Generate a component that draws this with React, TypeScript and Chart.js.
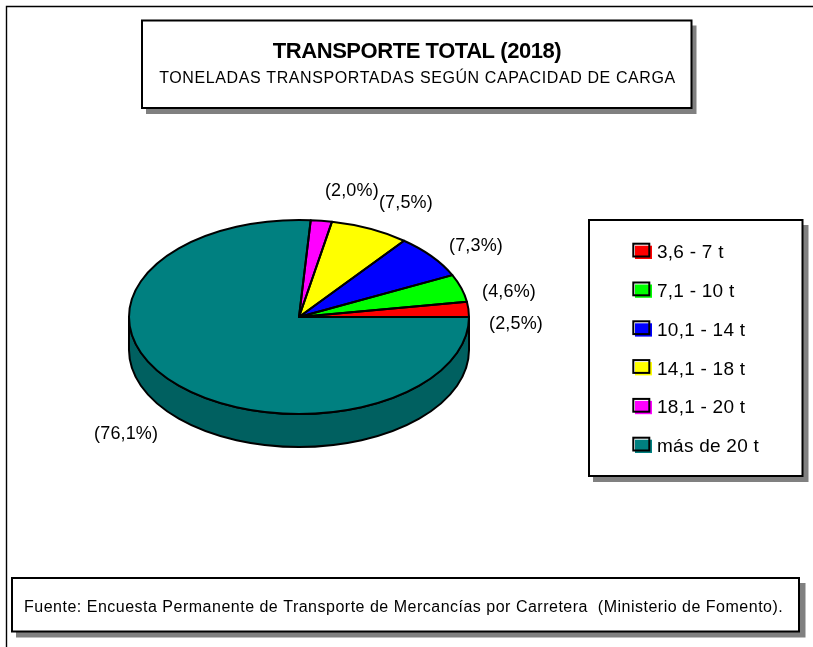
import React, { useEffect, useRef } from "react";
import { Chart, registerables } from "chart.js";

Chart.register(...registerables);

const categories = ["3,6 - 7 t", "7,1 - 10 t", "10,1 - 14 t", "14,1 - 18 t", "18,1 - 20 t", "más de 20 t"];
const shares = [2.5, 4.6, 7.3, 7.5, 2.0, 76.1];
const shareLabels = ["(2,5%)", "(4,6%)", "(7,3%)", "(7,5%)", "(2,0%)", "(76,1%)"];
const colours = ["#ff0000", "#00ff00", "#0000ff", "#ffff00", "#ff00ff", "#008080"];

const TITLE = "TRANSPORTE TOTAL (2018)";
const SUBTITLE = "TONELADAS TRANSPORTADAS SEGÚN CAPACIDAD DE CARGA";
const SOURCE = "Fuente: Encuesta Permanente de Transporte de Mercancías por Carretera  (Ministerio de Fomento).";

const FONT = '"Liberation Sans", Arial, sans-serif';
const SQUASH = 97 / 170;
const DEPTH = 33;
// Offset of each slice label from its rim midpoint (same order as categories)
const labelNudges = [
  [47.5, 13.6],
  [47.7, 2.9],
  [44.3, -11.3],
  [36, -26.9],
  [30.5, -30.9],
  [-48.6, 49.4],
];

function box(ctx: CanvasRenderingContext2D, x0: number, y0: number, x1: number, y1: number, sx: number, sy: number) {
  ctx.fillStyle = "#808080";
  ctx.fillRect(x0 + 4, y0 + 5, x1 - x0 + sx - 4, y1 - y0 + sy - 5);
  ctx.fillStyle = "#ffffff";
  ctx.fillRect(x0, y0, x1 - x0, y1 - y0);
  ctx.strokeStyle = "#000000";
  ctx.lineWidth = 2;
  ctx.strokeRect(x0, y0, x1 - x0, y1 - y0);
}

function text(ctx: CanvasRenderingContext2D, s: string, x: number, y: number, font: string, spacing: number, align: CanvasTextAlign = "left") {
  ctx.font = font;
  (ctx as any).letterSpacing = spacing + "px";
  ctx.textAlign = align;
  ctx.textBaseline = "alphabetic";
  ctx.fillStyle = "#000000";
  ctx.fillText(s, x, y);
  (ctx as any).letterSpacing = "0px";
}

const piePlugin = {
  id: "pie3d",
  beforeDraw(chart: any) {
    const ctx: CanvasRenderingContext2D = chart.ctx;
    ctx.save();
    ctx.fillStyle = "#ffffff";
    ctx.fillRect(0, 0, chart.width, chart.height);
    // outer frame
    ctx.strokeStyle = "#000000";
    ctx.lineWidth = 1.4;
    ctx.beginPath();
    ctx.moveTo(813, 6.5);
    ctx.lineTo(6.5, 6.5);
    ctx.lineTo(6.5, 647);
    ctx.stroke();
    // title box
    box(ctx, 142, 20.5, 691.5, 108, 5, 6);
    text(ctx, TITLE, 417, 57.5, `bold 22px ${FONT}`, -0.45, "center");
    text(ctx, SUBTITLE, 417.5, 83, `16px ${FONT}`, 0.6, "center");
    // legend box
    box(ctx, 589, 220, 802.5, 476, 6, 6);
    categories.forEach((c, i) => {
      const top = 243.7 + i * 38.8;
      ctx.fillStyle = colours[i];
      ctx.fillRect(635, top + 2, 17, 13.3);
      ctx.strokeStyle = "#000000";
      ctx.lineWidth = 2;
      ctx.strokeRect(633.3, top, 16, 12.8);
      text(ctx, c, 657, top + 14.5, `19px ${FONT}`, 0.25);
    });
    // source box
    box(ctx, 12, 578, 799, 631.5, 6.5, 6);
    text(ctx, SOURCE, 24, 612, `16px ${FONT}`, 0.5);
    ctx.restore();
  },
  beforeDatasetsDraw(chart: any) {
    const ctx: CanvasRenderingContext2D = chart.ctx;
    const arcs = chart.getDatasetMeta(0).data;
    ctx.save();
    arcs.forEach((arc: any, i: number) => {
      const a0 = Math.max(arc.startAngle, 0);
      const a1 = Math.min(arc.endAngle, Math.PI);
      if (a0 >= a1) return;
      const rx = arc.outerRadius;
      const ry = rx * SQUASH;
      ctx.beginPath();
      ctx.ellipse(arc.x, arc.y + DEPTH, rx, ry, 0, a0, a1);
      ctx.ellipse(arc.x, arc.y, rx, ry, 0, a1, a0, true);
      ctx.closePath();
      const m = colours[categories.length - 1 - i].match(/[0-9a-f]{2}/g)!.map((h: string) => Math.round(parseInt(h, 16) * 0.75));
      ctx.fillStyle = `rgb(${m[0]},${m[1]},${m[2]})`;
      ctx.fill();
      ctx.strokeStyle = "#000000";
      ctx.lineWidth = 2;
      ctx.stroke();
    });
    ctx.restore();
    // squash the library's slices into the ellipse
    const first = arcs[0];
    ctx.save();
    ctx.translate(first.x, first.y);
    ctx.scale(1, SQUASH);
    ctx.translate(-first.x, -first.y);
  },
  afterDatasetsDraw(chart: any) {
    const ctx: CanvasRenderingContext2D = chart.ctx;
    ctx.restore();
    const arcs = chart.getDatasetMeta(0).data;
    ctx.save();
    // uniform outlines, stroked after the transform is gone
    arcs.forEach((arc: any) => {
      const rx = arc.outerRadius;
      const ry = rx * SQUASH;
      ctx.beginPath();
      ctx.moveTo(arc.x, arc.y);
      ctx.ellipse(arc.x, arc.y, rx, ry, 0, arc.startAngle, arc.endAngle);
      ctx.closePath();
      ctx.strokeStyle = "#000000";
      ctx.lineWidth = 2;
      ctx.lineJoin = "round";
      ctx.stroke();
    });
    // slice labels
    arcs.forEach((arc: any, i: number) => {
      const k = categories.length - 1 - i;
      const mid = (arc.startAngle + arc.endAngle) / 2;
      const x = arc.x + arc.outerRadius * Math.cos(mid) + labelNudges[k][0];
      const y = arc.y + arc.outerRadius * SQUASH * Math.sin(mid) + labelNudges[k][1];
      text(ctx, shareLabels[k], x, y + 6, `18px ${FONT}`, 0.15, "center");
    });
    ctx.restore();
  },
};

export default function App() {
  const ref = useRef<HTMLCanvasElement>(null);
  useEffect(() => {
    const chart = new Chart(ref.current!, {
      type: "pie",
      data: {
        labels: [...categories].reverse(),
        datasets: [
          {
            data: [...shares].reverse(),
            backgroundColor: [...colours].reverse(),
            borderWidth: 0,
            clip: false,
          } as any,
        ],
      },
      options: {
        animation: false,
        responsive: false,
        rotation: 90,
        layout: { padding: { left: 129, right: 344, top: 147, bottom: 160 } },
        plugins: { legend: { display: false }, tooltip: { enabled: false }, title: { display: false } },
        events: [],
      },
      plugins: [piePlugin as any],
    });
    return () => chart.destroy();
  }, []);
  return (
    <div style={{ position: "fixed", left: 0, top: 0, width: 813, height: 647 }}>
      <canvas ref={ref} width={813} height={647} style={{ display: "block", width: 813, height: 647 }} />
    </div>
  );
}
